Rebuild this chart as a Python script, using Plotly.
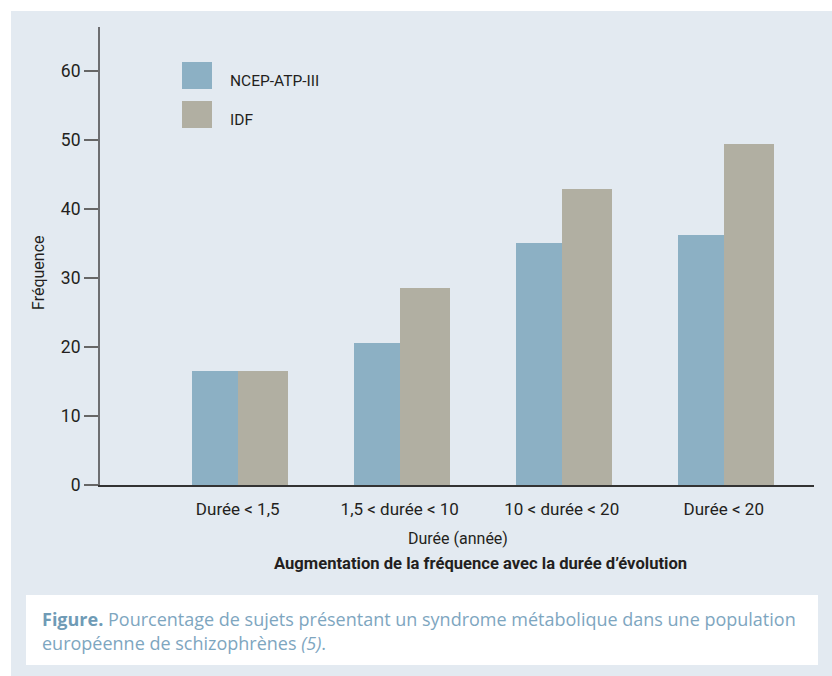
import plotly.graph_objects as go

# Data
categories = ["Durée < 1,5", "1,5 < durée < 10", "10 < durée < 20", "Durée < 20"]
ncep_atp_iii = [16.6, 20.6, 35.1, 36.2]
idf = [16.6, 28.6, 42.9, 49.5]
series_names = ["NCEP-ATP-III", "IDF"]
y_ticks = [0, 10, 20, 30, 40, 50, 60]

# Styling
W, H = 832, 676
PLOT_L, PLOT_R, PLOT_T, PLOT_B = 100, 814, 27, 485
PANEL = "#e3eaf1"
BLUE = "#8cb0c4"
GREY = "#b1afa2"
TEXT = "#231f20"
CAPTION = "#7ea6bf"
CAPTION_BOLD = "#6f9bb6"
SANS = "Roboto, Liberation Sans, sans-serif"
CAPTION_FONT = "Open Sans, Noto Sans, sans-serif"


def px_x(px):
    """Figure pixel x -> paper coordinate."""
    return (px - PLOT_L) / (PLOT_R - PLOT_L)


def px_y(py):
    """Figure pixel y (from top) -> paper coordinate."""
    return (PLOT_B - py) / (PLOT_B - PLOT_T)


x_idx = list(range(len(categories)))

fig = go.Figure()
fig.add_trace(go.Bar(x=x_idx, y=ncep_atp_iii, name=series_names[0],
                     marker=dict(color=BLUE, line=dict(width=0)),
                     offset=-0.28, width=0.28, showlegend=False))
fig.add_trace(go.Bar(x=x_idx, y=idf, name=series_names[1],
                     marker=dict(color=GREY, line=dict(width=0)),
                     offset=0.0, width=0.31, showlegend=False))

shapes = [
    # white margins around the tinted panel
    dict(type="rect", xref="paper", yref="paper", x0=px_x(0), x1=px_x(W),
         y0=px_y(11), y1=px_y(0), fillcolor="white", line=dict(width=0), layer="below"),
    dict(type="rect", xref="paper", yref="paper", x0=px_x(0), x1=px_x(11),
         y0=px_y(H), y1=px_y(0), fillcolor="white", line=dict(width=0), layer="below"),
    # caption box
    dict(type="rect", xref="paper", yref="paper", x0=px_x(26), x1=px_x(818),
         y0=px_y(665), y1=px_y(595), fillcolor="white", line=dict(width=0), layer="below"),
]

annotations = []
# legend swatches and labels
for i, (name, color) in enumerate(zip(series_names, [BLUE, GREY])):
    top = 62 + i * 39
    shapes.append(dict(type="rect", xref="paper", yref="paper",
                       x0=px_x(182), x1=px_x(212), y0=px_y(top + 27), y1=px_y(top),
                       fillcolor=color, line=dict(width=0)))
    annotations.append(dict(text=name, xref="paper", yref="paper",
                            x=px_x(228), y=px_y(top + 19), xanchor="left", yanchor="middle",
                            showarrow=False, font=dict(family=SANS, size=15.5, color=TEXT)))

# axis titles
annotations += [
    dict(text="Fréquence", xref="paper", yref="paper", x=px_x(38), y=px_y(273),
         textangle=-90, showarrow=False, xanchor="center", yanchor="middle",
         font=dict(family=SANS, size=16, color=TEXT)),
    dict(text="Durée (année)", xref="paper", yref="paper", x=px_x(458), y=px_y(538),
         showarrow=False, xanchor="center", yanchor="middle",
         font=dict(family=SANS, size=16, color=TEXT)),
    dict(text="<b>Augmentation de la fréquence avec la durée d’évolution</b>",
         xref="paper", yref="paper", x=px_x(480), y=px_y(563),
         showarrow=False, xanchor="center", yanchor="middle",
         font=dict(family=SANS, size=16.6, color=TEXT)),
    dict(text=f"<b><span style='color:{CAPTION_BOLD}'>Figure.</span></b> "
              "Pourcentage de sujets présentant un syndrome métabolique dans une population",
         xref="paper", yref="paper", x=px_x(40), y=px_y(619),
         showarrow=False, xanchor="left", yanchor="middle",
         font=dict(family=CAPTION_FONT, size=18, color=CAPTION)),
    dict(text="européenne de schizophrènes <i>(5)</i>.",
         xref="paper", yref="paper", x=px_x(40), y=px_y(643),
         showarrow=False, xanchor="left", yanchor="middle",
         font=dict(family=CAPTION_FONT, size=18, color=CAPTION)),
]

x_range = [-0.850, 3.557]
fig.update_layout(
    width=W, height=H,
    margin=dict(l=PLOT_L, r=W - PLOT_R, t=PLOT_T, b=H - PLOT_B, pad=0),
    paper_bgcolor=PANEL, plot_bgcolor=PANEL,
    barmode="overlay", bargap=0,
    showlegend=False,
    shapes=shapes, annotations=annotations,
    xaxis=dict(range=x_range, tickvals=x_idx, ticktext=categories,
               ticks="", showgrid=False, zeroline=False, ticklabelstandoff=8,
               showline=True, linecolor="#333333", linewidth=2,
               tickfont=dict(family=SANS, size=17, color=TEXT)),
    # separators between the duration groups
    xaxis2=dict(range=x_range, overlaying="x", anchor="y", side="bottom",
                tickvals=[0.532, 1.551, 2.600, 3.471], ticks="outside",
                ticklen=13, tickwidth=1.5, tickcolor="#333333",
                showticklabels=False, showgrid=False, zeroline=False, showline=False),
    yaxis=dict(range=[0, 66.4], tickvals=y_ticks, ticks="outside",
               ticklen=14, tickwidth=2, tickcolor="#666666",
               showgrid=False, zeroline=False,
               showline=True, linecolor="#6d6e71", linewidth=2,
               tickfont=dict(family=SANS, size=17.5, color=TEXT)),
)

fig.write_html("out.html")
